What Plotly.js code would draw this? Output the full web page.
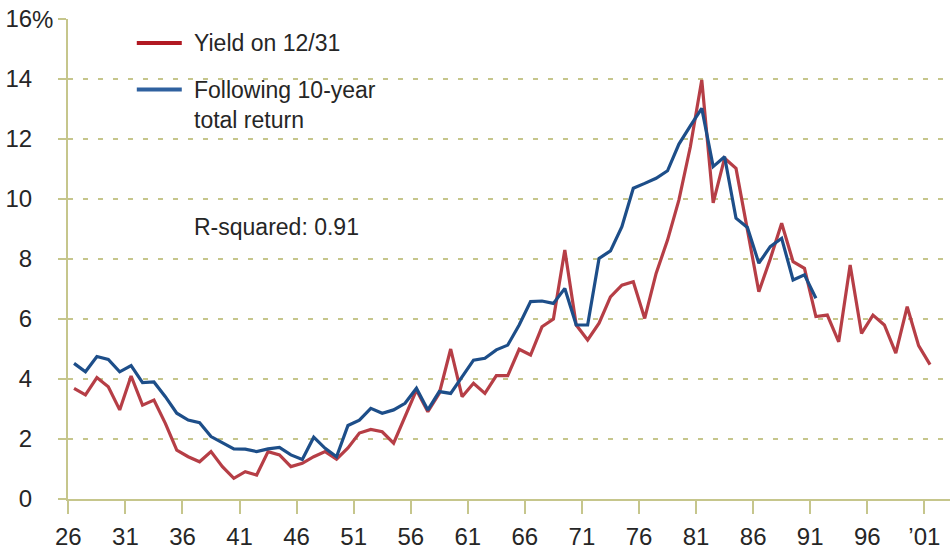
<!DOCTYPE html>
<html>
<head>
<meta charset="utf-8">
<script src="https://cdn.plot.ly/plotly-3.0.1.min.js"></script>
<style>
  html, body { margin: 0; padding: 0; background: #fff; }
  #chart { width: 950px; height: 555px; }
</style>
</head>
<body>
<div id="chart"></div>
<script>
// yield on 12/31 of each year, 1926-2001
var yieldYears = [];
for (var y = 1926; y <= 2001; y++) yieldYears.push(y);
var yieldValues = [
  3.69, 3.47, 4.05, 3.74, 2.97, 4.10, 3.13, 3.30, 2.52, 1.63,
  1.41, 1.24, 1.58, 1.08, 0.69, 0.91, 0.80, 1.58, 1.47, 1.08,
  1.19, 1.41, 1.58, 1.33, 1.70, 2.20, 2.32, 2.24, 1.86, 2.74,
  3.63, 2.91, 3.52, 5.00, 3.41, 3.86, 3.52, 4.11, 4.11, 4.99,
  4.80, 5.74, 6.00, 8.30, 5.80, 5.30, 5.86, 6.74, 7.13, 7.24,
  6.02, 7.52, 8.63, 9.97, 11.74, 13.97, 9.87, 11.36, 11.02, 8.97,
  6.91, 8.00, 9.19, 7.91, 7.69, 6.08, 6.13, 5.24, 7.80, 5.52,
  6.13, 5.80, 4.86, 6.41, 5.11, 4.48
];

// following 10-year total return, 1926-1991
var returnYears = yieldYears.slice(0, 66);
var returnValues = [
  4.52, 4.24, 4.75, 4.65, 4.24, 4.45, 3.88, 3.90, 3.41, 2.86,
  2.63, 2.54, 2.08, 1.86, 1.67, 1.66, 1.58, 1.67, 1.72, 1.47,
  1.32, 2.06, 1.69, 1.41, 2.45, 2.63, 3.02, 2.86, 2.97, 3.19,
  3.69, 2.97, 3.58, 3.52, 4.08, 4.63, 4.69, 4.97, 5.13, 5.80,
  6.58, 6.60, 6.52, 7.02, 5.80, 5.80, 8.02, 8.27, 9.08, 10.36,
  10.52, 10.69, 10.94, 11.83, 12.44, 13.02, 11.08, 11.41, 9.36, 9.05,
  7.86, 8.41, 8.69, 7.30, 7.47, 6.69
];

var tickYears = [1926, 1931, 1936, 1941, 1946, 1951, 1956, 1961, 1966, 1971, 1976, 1981, 1986, 1991, 1996, 2001];
var tickLabels = ["26", "31", "36", "41", "46", "51", "56", "61", "66", "71", "76", "81", "86", "91", "96", "\u201901"];
var yTicks = [0, 2, 4, 6, 8, 10, 12, 14, 16];

var redColor = "#b63e46";
var blueColor = "#1d4e89";
var olive = "#c6c68c";
var textColor = "#262626";
var tickFont = {family: "Liberation Sans Narrow, Arial Narrow, Liberation Sans, sans-serif", size: 24, color: textColor};
var noteFont = {family: "Liberation Sans, Arial, sans-serif", size: 23, color: textColor};

var traces = [
  {x: yieldYears, y: yieldValues, type: "scatter", mode: "lines", name: "Yield on 12/31",
   line: {color: redColor, width: 3.2}},
  {x: returnYears, y: returnValues, type: "scatter", mode: "lines", name: "Following 10-year total return",
   line: {color: blueColor, width: 3.2}}
];

var layout = {
  width: 950, height: 555,
  margin: {l: 68, r: 0, t: 19, b: 56},
  paper_bgcolor: "#ffffff", plot_bgcolor: "#ffffff",
  showlegend: false,
  xaxis: {
    range: [1925.47, 2002.75],
    tickvals: tickYears.map(function (v) { return v - 0.5; }),
    ticktext: tickLabels,
    ticks: "outside", ticklen: 13, tickwidth: 2, tickcolor: olive,
    showline: true, linecolor: olive, linewidth: 2,
    showgrid: false, zeroline: false,
    tickfont: tickFont, ticklabelstandoff: 2
  },
  yaxis: {
    range: [0, 16],
    tickvals: yTicks,
    ticktext: yTicks.map(String),
    ticks: "outside", ticklen: 8, tickwidth: 2, tickcolor: olive,
    showline: true, linecolor: olive, linewidth: 2,
    showgrid: true, gridcolor: olive, gridwidth: 2, griddash: "5px,10px",
    zeroline: false,
    tickfont: tickFont, ticklabelstandoff: 21
  },
  shapes: [
    {type: "line", xref: "paper", yref: "paper", x0: 0.078, x1: 0.129, y0: 0.95, y1: 0.95,
     line: {color: "#b11922", width: 4}},
    {type: "line", xref: "paper", yref: "paper", x0: 0.078, x1: 0.129, y0: 0.853, y1: 0.853,
     line: {color: "#2f619f", width: 4}}
  ],
  annotations: [
    {xref: "paper", yref: "paper", x: 0.141, y: 0.95, xanchor: "left", yanchor: "middle",
     text: "Yield on 12/31", showarrow: false, font: noteFont},
    {xref: "paper", yref: "paper", x: 0.141, y: 0.82, xanchor: "left", yanchor: "middle",
     text: "Following 10-year<br>total return", align: "left", showarrow: false, font: noteFont},
    {xref: "paper", yref: "paper", x: 0.141, y: 0.567, xanchor: "left", yanchor: "middle",
     text: "R-squared: 0.91", showarrow: false, font: noteFont},
    {xref: "paper", yref: "y", x: -0.043, y: 16, xanchor: "left", yanchor: "middle",
     text: "%", showarrow: false, font: tickFont}
  ]
};

Plotly.newPlot("chart", traces, layout, {displayModeBar: false, staticPlot: true});
</script>
</body>
</html>
